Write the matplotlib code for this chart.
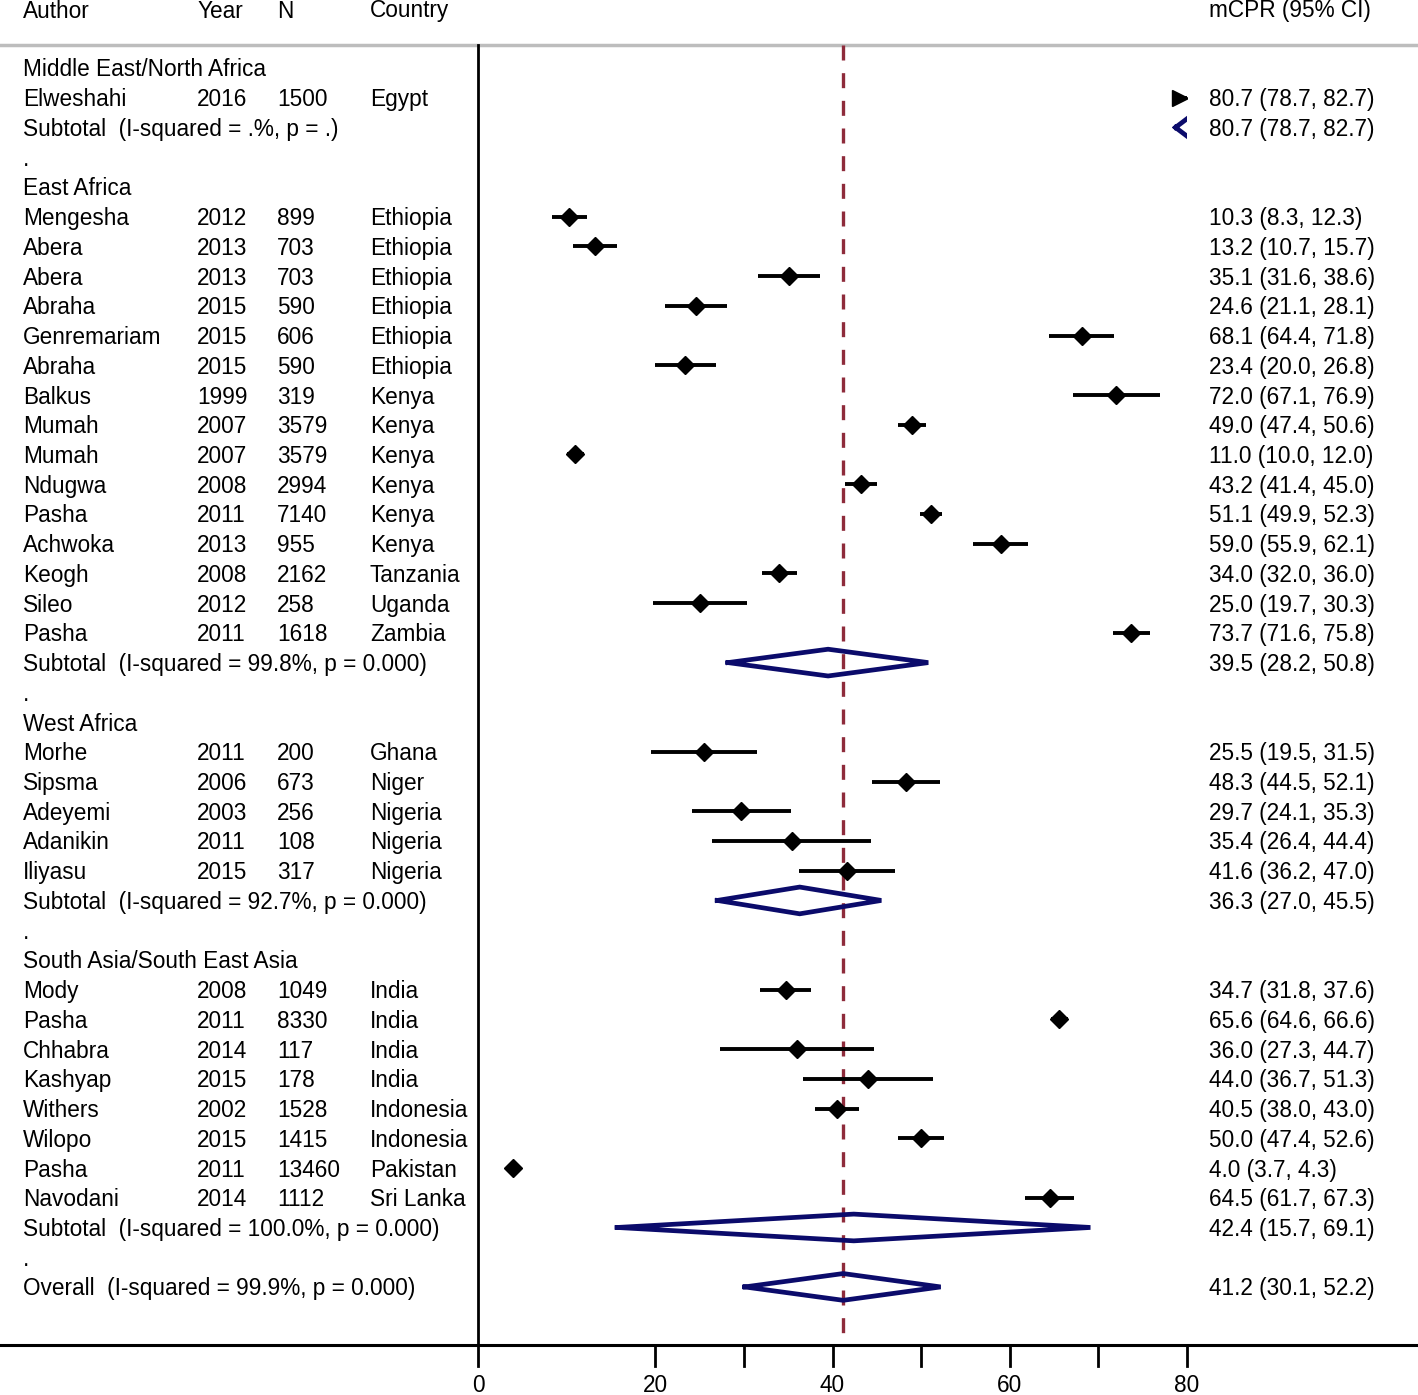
#!/usr/bin/env python3
"""Forest plot of modern contraceptive prevalence (mCPR) by region."""

import matplotlib

matplotlib.use("Agg")

from matplotlib import pyplot as plt
from matplotlib import transforms

# ---- data -------------------------------------------------------------
regions = ["Middle East/North Africa", "East Africa", "West Africa",
           "South Asia/South East Asia"]

study_region = [0,
                1, 1, 1, 1, 1, 1, 1, 1, 1, 1, 1, 1, 1, 1, 1,
                2, 2, 2, 2, 2,
                3, 3, 3, 3, 3, 3, 3, 3]
authors = ["Elweshahi",
           "Mengesha", "Abera", "Abera", "Abraha", "Genremariam", "Abraha",
           "Balkus", "Mumah", "Mumah", "Ndugwa", "Pasha", "Achwoka", "Keogh",
           "Sileo", "Pasha",
           "Morhe", "Sipsma", "Adeyemi", "Adanikin", "Iliyasu",
           "Mody", "Pasha", "Chhabra", "Kashyap", "Withers", "Wilopo",
           "Pasha", "Navodani"]
years = [2016,
         2012, 2013, 2013, 2015, 2015, 2015, 1999, 2007, 2007, 2008, 2011,
         2013, 2008, 2012, 2011,
         2011, 2006, 2003, 2011, 2015,
         2008, 2011, 2014, 2015, 2002, 2015, 2011, 2014]
sizes = [1500,
         899, 703, 703, 590, 606, 590, 319, 3579, 3579, 2994, 7140, 955,
         2162, 258, 1618,
         200, 673, 256, 108, 317,
         1049, 8330, 117, 178, 1528, 1415, 13460, 1112]
countries = ["Egypt",
             "Ethiopia", "Ethiopia", "Ethiopia", "Ethiopia", "Ethiopia",
             "Ethiopia", "Kenya", "Kenya", "Kenya", "Kenya", "Kenya", "Kenya",
             "Tanzania", "Uganda", "Zambia",
             "Ghana", "Niger", "Nigeria", "Nigeria", "Nigeria",
             "India", "India", "India", "India", "Indonesia", "Indonesia",
             "Pakistan", "Sri Lanka"]
es = [80.7,
      10.3, 13.2, 35.1, 24.6, 68.1, 23.4, 72.0, 49.0, 11.0, 43.2, 51.1, 59.0,
      34.0, 25.0, 73.7,
      25.5, 48.3, 29.7, 35.4, 41.6,
      34.7, 65.6, 36.0, 44.0, 40.5, 50.0, 4.0, 64.5]
lo = [78.7,
      8.3, 10.7, 31.6, 21.1, 64.4, 20.0, 67.1, 47.4, 10.0, 41.4, 49.9, 55.9,
      32.0, 19.7, 71.6,
      19.5, 44.5, 24.1, 26.4, 36.2,
      31.8, 64.6, 27.3, 36.7, 38.0, 47.4, 3.7, 61.7]
hi = [82.7,
      12.3, 15.7, 38.6, 28.1, 71.8, 26.8, 76.9, 50.6, 12.0, 45.0, 52.3, 62.1,
      36.0, 30.3, 75.8,
      31.5, 52.1, 35.3, 44.4, 47.0,
      37.6, 66.6, 44.7, 51.3, 43.0, 52.6, 4.3, 67.3]

sub_labels = ["(I-squared = .%, p = .)", "(I-squared = 99.8%, p = 0.000)",
              "(I-squared = 92.7%, p = 0.000)", "(I-squared = 100.0%, p = 0.000)"]
sub_es = [80.7, 39.5, 36.3, 42.4]
sub_lo = [78.7, 28.2, 27.0, 15.7]
sub_hi = [82.7, 50.8, 45.5, 69.1]

overall_label = "(I-squared = 99.9%, p = 0.000)"
overall = (41.2, 30.1, 52.2)

xticks = [0, 20, 30, 40, 50, 60, 70, 80]
xticklabels = [0, 20, 40, 60, 80]

# ---- style ------------------------------------------------------------
W, H = 1418, 1395
FONT = ["Liberation Sans", "DejaVu Sans"]
FS = 16.3
NAVY = "#0b0b6b"
RED = "#8e2b3b"

# pixel layout (left edges of text columns, plot region)
X0_PX, X80_PX = 478, 1187
COL_AUTHOR, COL_YEAR, COL_N, COL_COUNTRY, COL_ES = 23, 197, 277, 370, 1209
ROW0_PX, ROW_STEP = 68, 29.73
TEXT_DROP = 2.0 / ROW_STEP


def fx(px):
    return px / W


fig = plt.figure(figsize=(W / 100, H / 100), dpi=100)
ax = fig.add_axes([fx(X0_PX), 0, fx(X80_PX - X0_PX), 1])
ax.set_xlim(0, 80)
ax.set_ylim((H - ROW0_PX) / ROW_STEP, -ROW0_PX / ROW_STEP)
ax.axis("off")

text_tr = transforms.blended_transform_factory(fig.transFigure, ax.transData)


def label(col_px, row, s):
    ax.text(fx(col_px), row + TEXT_DROP, s, transform=text_tr, ha="left",
            va="center", fontsize=FS, family=FONT, color="black",
            clip_on=False)


def ci_text(row, e, l, h):
    label(COL_ES, row, f"{e:.1f} ({l:.1f}, {h:.1f})")


def sub_diamond(row, e, l, h):
    d = 0.45
    ax.plot([l, e, h, e, l], [row, row - d, row, row + d, row],
            color=NAVY, lw=3.4, solid_joinstyle="miter", zorder=4)


# header
top_row = -ROW0_PX / ROW_STEP
header_row = top_row + 9 / ROW_STEP
for col, s in [(COL_AUTHOR, "Author"), (COL_YEAR, "Year"), (COL_N, "N"),
               (COL_COUNTRY, "Country"), (COL_ES, "mCPR (95% CI)")]:
    label(col, header_row, s)

line_top = top_row + 45 / ROW_STEP
line_bot = top_row + 1345 / ROW_STEP

# rows
row = 0
for g, region in enumerate(regions):
    label(COL_AUTHOR, row, region)
    row += 1
    for i in range(len(authors)):
        if study_region[i] != g:
            continue
        label(COL_AUTHOR, row, authors[i])
        label(COL_YEAR, row, str(years[i]))
        label(COL_N, row, str(sizes[i]))
        label(COL_COUNTRY, row, countries[i])
        ci_text(row, es[i], lo[i], hi[i])
        if es[i] > 80:
            # point off scale: arrowhead at the right edge
            ax.plot([lo[i], 80], [row, row], color="black", lw=2.8,
                    solid_capstyle="butt", zorder=3)
            ax.plot(79.2, row, marker=">", color="black", ms=11, zorder=4)
        else:
            ax.plot([lo[i], hi[i]], [row, row], color="black", lw=2.8,
                    solid_capstyle="butt", zorder=3)
            ax.plot(es[i], row, marker="D", color="black", ms=9.5, zorder=4)
        row += 1
    label(COL_AUTHOR, row, "Subtotal  " + sub_labels[g])
    ci_text(row, sub_es[g], sub_lo[g], sub_hi[g])
    sub_diamond(row, sub_es[g], sub_lo[g], sub_hi[g])
    row += 1
    label(COL_AUTHOR, row, ".")
    row += 1

label(COL_AUTHOR, row, "Overall  " + overall_label)
ci_text(row, *overall)
sub_diamond(row, *overall)

# frame lines
ax.plot([0, 1], [line_top, line_top], transform=text_tr, color="#bdbdbd",
        lw=2.5, clip_on=False)
ax.plot([0, 1], [line_bot, line_bot], transform=text_tr, color="black",
        lw=2.2, clip_on=False)
ax.plot([0, 0], [line_top, line_bot], color="black", lw=2.0, clip_on=False)
ax.plot([overall[0], overall[0]], [line_top, line_bot], color=RED, lw=2.4,
        dashes=(4.5, 3.8), clip_on=False, zorder=2)

# ticks
tick_end = top_row + 1366 / ROW_STEP
for t in xticks:
    ax.plot([t, t], [line_bot, tick_end], color="black", lw=2.0,
            clip_on=False)
for t in xticklabels:
    ax.text(t, top_row + 1386 / ROW_STEP, str(t), ha="center", va="center",
            fontsize=FS, family=FONT, clip_on=False)

fig.savefig("out.png", dpi=100, facecolor="white")
